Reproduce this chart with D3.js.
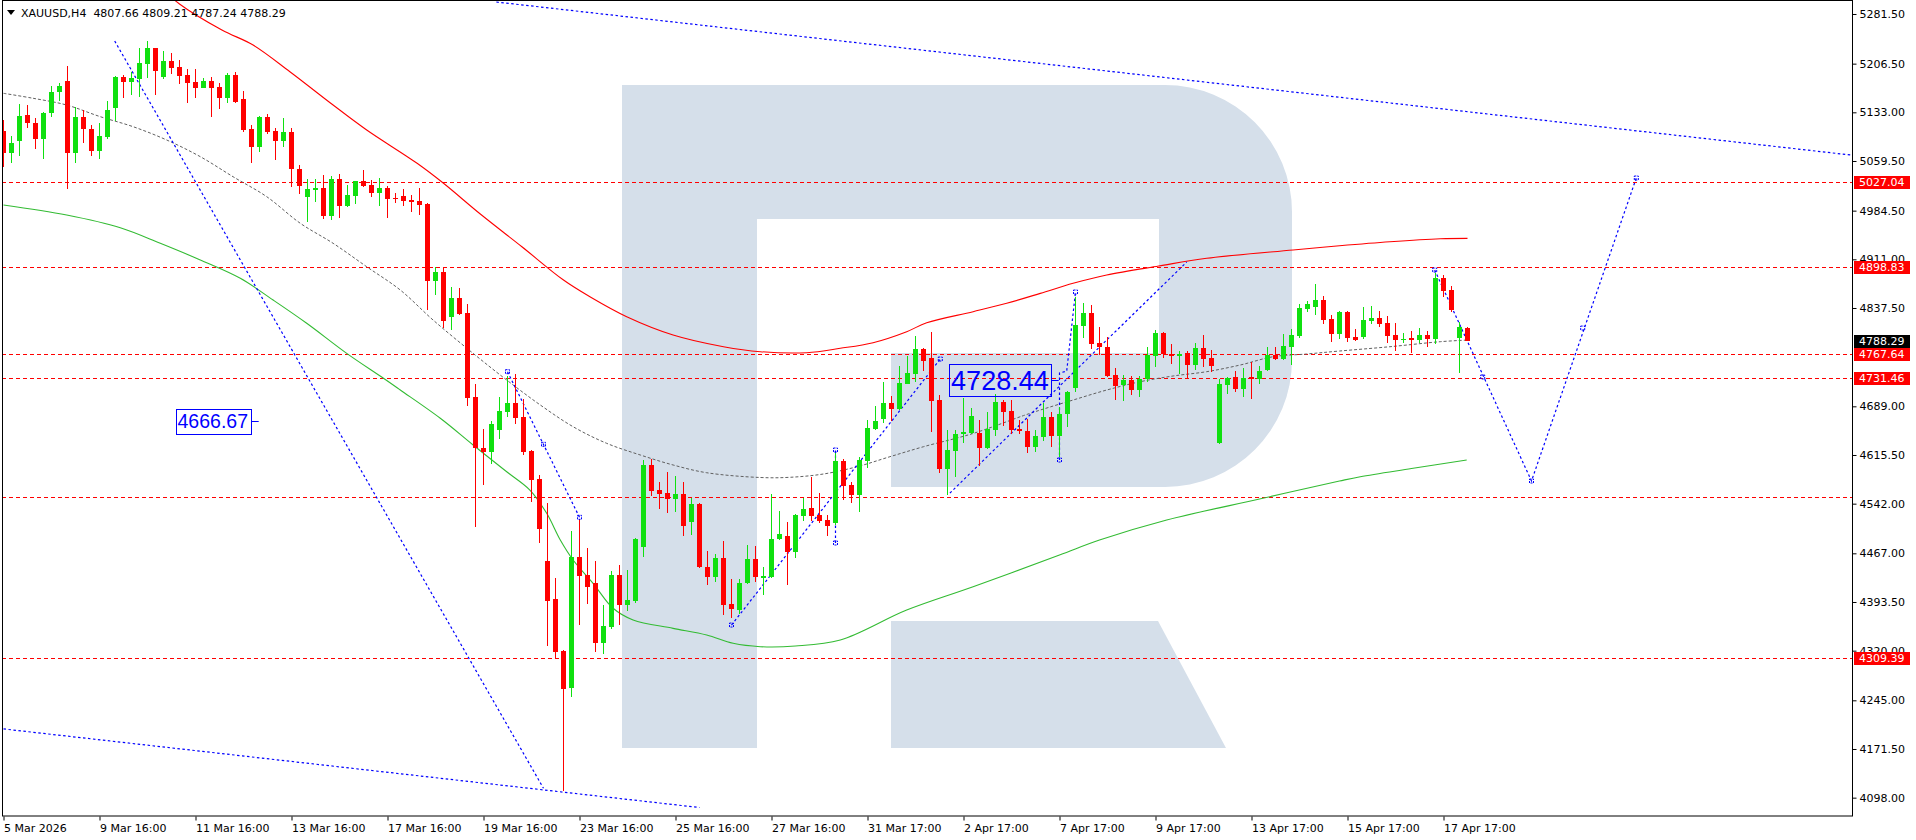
<!DOCTYPE html>
<html><head><meta charset="utf-8">
<script src="https://cdn.jsdelivr.net/npm/d3@7"></script>
<style>
html,body{margin:0;padding:0;background:#fff;overflow:hidden;}
svg{display:block;}
text{font-family:"DejaVu Sans",Tahoma,sans-serif;}
</style></head><body>
<svg id="c" width="1916" height="840"></svg>
<script>
// ---------- DATA ----------
const symbolHeader = "XAUUSD,H4  4807.66 4809.21 4787.24 4788.29";
const openP = [5104.8,5071.1,5090.1,5128.9,5116.4,5092.2,5131.5,5163.2,5180.3,5071.1,5125.5,5107.3,5075.0,5095.2,5140.0,5186.3,5179.2,5183.8,5206.4,5229.7,
5186.8,5210.5,5201.4,5189.3,5178.8,5170.2,5180.3,5171.2,5155.1,5189.3,5153.1,5107.8,5080.1,5125.9,5104.8,5090.1,5103.3,5047.4,5005.5,5016.1,
5018.7,4976.9,5032.3,4992.0,5007.1,5028.8,5023.2,5011.1,5018.7,5004.0,5006.6,5000.6,4999.0,4994.5,4878.7,4892.3,4824.3,4853.0,4830.4,4702.6,
4626.5,4619.5,4653.2,4680.9,4693.5,4673.3,4622.0,4578.8,4455.4,4397.5,4319.9,4263.1,4461.9,4434.7,4421.7,4331.1,4356.2,4434.2,4388.9,4395.4,
4477.0,4599.9,4562.6,4557.6,4549.5,4556.1,4514.7,4541.0,4445.9,4430.8,4459.5,4390.0,4381.4,4422.2,4458.4,4429.3,4431.7,4488.2,4493.1,4469.4,
4523.8,4535.0,4524.9,4517.3,4513.2,4606.4,4570.2,4555.1,4606.4,4654.7,4669.8,4694.0,4684.9,4723.1,4737.8,4775.5,4761.5,4698.5,4594.3,4622.0,
4647.2,4648.2,4649.1,4626.5,4653.7,4695.5,4681.9,4654.7,4651.7,4628.0,4643.1,4673.3,4644.6,4676.9,4716.0,4810.7,4830.4,4784.2,4778.1,4736.3,
4721.2,4728.7,4713.6,4729.8,4765.4,4799.7,4768.0,4765.0,4769.1,4751.4,4777.1,4762.4,4633.1,4721.2,4732.8,4715.1,4732.8,4730.7,4743.8,4766.5,
4760.4,4779.0,4795.2,4836.0,4839.4,4849.5,4820.9,4798.7,4831.4,4793.2,4794.1,4817.8,4822.4,4815.3,4796.7,4789.1,4792.2,4789.1,4796.7,4790.6,
4883.2,4864.6,4792.6,4807.66];
const highP = [5121.4,5097.2,5145.5,5144.0,5123.9,5133.9,5172.7,5177.7,5202.9,5141.5,5136.5,5113.8,5116.4,5150.1,5187.8,5189.3,5194.3,5229.7,5240.7,5230.5,
5225.6,5222.6,5211.5,5197.9,5198.4,5184.4,5186.8,5176.8,5192.8,5193.9,5165.2,5113.8,5127.0,5130.4,5109.3,5124.4,5109.3,5053.4,5032.3,5032.3,
5038.3,5036.8,5039.8,5023.2,5029.5,5045.9,5030.8,5033.8,5021.7,5011.1,5017.2,5008.6,5018.7,4995.5,4899.8,4899.8,4869.6,4868.1,4843.5,4722.7,
4654.7,4666.8,4703.5,4735.2,4737.8,4699.6,4623.5,4585.3,4543.4,4430.2,4321.5,4500.7,4518.4,4474.6,4455.4,4388.9,4440.3,4449.3,4441.8,4490.6,
4607.5,4609.0,4574.7,4590.2,4584.2,4574.2,4550.1,4542.5,4470.9,4466.0,4486.0,4428.2,4428.2,4479.5,4478.0,4446.8,4556.1,4531.3,4514.3,4526.0,
4551.0,4582.7,4557.6,4524.9,4618.5,4609.0,4575.1,4612.9,4668.3,4689.5,4725.7,4704.6,4749.9,4765.0,4795.2,4777.0,4801.2,4706.1,4653.2,4653.2,
4702.0,4686.0,4668.3,4680.9,4707.6,4698.5,4698.5,4668.3,4669.8,4653.2,4693.5,4680.9,4688.4,4712.5,4854.5,4845.5,4842.0,4808.3,4793.2,4747.3,
4736.3,4735.2,4734.8,4779.0,4803.8,4801.2,4783.1,4772.5,4772.5,4784.2,4796.7,4774.0,4730.2,4733.7,4742.3,4747.3,4756.4,4749.9,4778.1,4778.1,
4798.2,4805.3,4843.5,4848.0,4874.2,4855.6,4826.9,4832.9,4832.9,4805.7,4839.4,4840.9,4832.9,4825.8,4815.3,4799.7,4802.7,4807.7,4802.7,4889.9,
4887.3,4871.1,4815.9,4809.21];
const lowP = [5050.9,5056.9,5067.0,5109.7,5077.1,5062.0,5126.4,5150.5,5016.7,5056.9,5087.1,5067.0,5062.0,5092.2,5119.9,5155.1,5159.1,5156.6,5185.3,5159.1,
5183.3,5190.9,5176.2,5147.5,5155.1,5169.5,5126.4,5138.4,5147.5,5147.5,5103.7,5056.0,5073.5,5099.8,5061.4,5081.1,5020.7,5009.6,4967.8,4998.0,
4971.9,4970.4,4973.8,4990.4,4995.0,5020.7,5005.5,4992.0,4973.8,4996.5,4992.0,4982.9,4978.4,4834.4,4857.1,4807.7,4804.2,4826.9,4689.5,4507.2,
4570.2,4601.4,4639.2,4673.3,4662.3,4615.5,4544.9,4482.1,4327.0,4309.3,4108.0,4250.4,4358.7,4390.0,4318.4,4314.9,4352.2,4358.7,4379.9,4391.5,
4461.9,4553.5,4533.5,4527.4,4529.8,4493.1,4494.6,4444.4,4419.1,4423.2,4373.8,4368.8,4375.3,4420.6,4423.7,4404.0,4430.2,4487.0,4419.1,4459.5,
4516.2,4516.2,4512.3,4493.6,4509.7,4547.5,4543.4,4529.8,4595.4,4653.2,4663.3,4666.8,4683.4,4722.0,4725.3,4742.8,4650.7,4587.8,4555.1,4581.8,
4633.1,4647.0,4599.3,4625.0,4644.6,4659.7,4647.2,4646.7,4618.0,4620.4,4637.1,4628.0,4612.0,4658.2,4711.0,4791.7,4775.5,4766.5,4733.3,4698.5,
4697.5,4706.1,4703.5,4726.2,4747.9,4761.5,4752.4,4737.8,4730.2,4743.8,4748.8,4741.3,4631.6,4707.6,4711.1,4703.5,4700.0,4722.7,4742.3,4759.0,
4759.0,4751.4,4791.7,4831.9,4827.0,4813.3,4786.6,4790.6,4786.6,4787.6,4790.6,4813.3,4808.3,4784.2,4772.5,4784.2,4769.1,4784.2,4779.0,4783.1,
4854.5,4831.0,4738.8,4787.24];
const closeP = [5071.1,5086.2,5127.4,5116.4,5092.2,5131.9,5163.7,5172.7,5071.1,5125.5,5107.3,5075.0,5097.2,5136.5,5186.3,5179.2,5184.8,5207.5,5229.7,5195.8,
5210.5,5200.4,5188.3,5177.7,5170.2,5179.8,5170.2,5155.1,5189.3,5149.0,5106.7,5080.1,5125.9,5103.7,5090.1,5103.7,5046.9,5022.2,5017.2,5018.7,
4976.9,5032.3,4992.0,5008.1,5028.8,5021.7,5011.1,5018.7,5002.1,5002.1,4999.5,4998.0,4993.5,4878.7,4892.3,4817.8,4853.0,4828.4,4701.5,4625.6,
4619.5,4662.3,4681.9,4693.5,4671.8,4620.4,4577.7,4503.7,4395.0,4318.4,4262.1,4461.9,4432.7,4415.7,4331.1,4357.2,4434.2,4388.9,4396.5,4488.2,
4599.9,4561.1,4556.1,4549.5,4556.1,4508.7,4541.0,4445.9,4430.8,4459.5,4388.9,4382.4,4422.2,4458.4,4431.2,4432.7,4488.2,4496.2,4469.4,4524.9,
4533.5,4523.8,4516.2,4508.7,4606.4,4569.1,4555.1,4607.9,4655.8,4666.8,4694.0,4684.9,4724.2,4738.8,4775.5,4757.9,4697.5,4594.3,4623.0,4647.2,
4650.2,4674.4,4626.5,4654.7,4695.5,4680.9,4653.7,4652.2,4628.0,4644.2,4673.3,4644.6,4677.4,4711.1,4811.8,4830.4,4783.1,4779.0,4734.8,4719.7,
4728.7,4713.6,4730.2,4766.5,4799.7,4768.0,4765.0,4768.0,4751.4,4777.1,4760.4,4749.9,4722.7,4732.2,4715.1,4732.2,4730.7,4742.3,4766.5,4760.0,
4780.1,4796.7,4837.0,4843.5,4849.5,4819.3,4798.7,4831.4,4792.6,4789.1,4819.3,4822.4,4813.3,4795.6,4789.1,4790.6,4789.1,4796.7,4790.6,4883.2,
4863.6,4834.4,4809.2,4788.29];

const xLabels = ["5 Mar 2026","9 Mar 16:00","11 Mar 16:00","13 Mar 16:00","17 Mar 16:00","19 Mar 16:00","23 Mar 16:00","25 Mar 16:00",
"27 Mar 16:00","31 Mar 17:00","2 Apr 17:00","7 Apr 17:00","9 Apr 17:00","13 Apr 17:00","15 Apr 17:00","17 Apr 17:00"];
const xLabelEvery = 12;
const yTicks = [5281.5,5206.5,5133.0,5059.5,4984.5,4911.0,4837.5,4689.0,4615.5,4542.0,4467.0,4393.5,4320.0,4245.0,4171.5,4098.0];
const levels = [5027.04,4898.83,4767.64,4731.46,4551.6,4309.39];
const levelLabels = [5027.04,4898.83,4767.64,4731.46,4309.39];
const lastPrice = 4788.29;

// moving averages: [bar index, price]
const maRed = [[20,5318],[22,5296.6],[27.3,5257.3],[31.2,5234.6],[35.8,5194.3],[41.2,5144.0],[45.4,5106.3],[51.7,5056.0],[55,5025.8],[59.6,4979.4],
[64.8,4930],[70,4879.7],[73.3,4854.5],[77.9,4824.3],[83.7,4796.7],[90,4779],[94.6,4771.5],[100.4,4770],[104.6,4776.6],[108.7,4785.1],[112.9,4801.7],
[115.4,4815.2],[121.2,4831.9],[125.4,4844.6],[129.6,4859.6],[133.7,4874.8],[137.9,4887.3],[144.4,4900.9],[150.4,4912.5],[161.2,4925.1],[167,4931.5],
[173.3,4937.6],[179.6,4942.1],[183,4942.7]];
const maGreen = [[0,4993.0],[7.9,4977.9],[14.6,4958.7],[19.6,4935.2],[24.6,4910.0],[29.6,4882.3],[33.7,4849.5],[37.9,4814.4],[42.9,4769.0],[47.5,4731.3],
[49.6,4713.6],[54.6,4670.9],[58.7,4630.6],[62.9,4590.2],[65.8,4562.6],[67.9,4527.4],[69.6,4487.1],[71.2,4456.9],[73.7,4421.7],[76.2,4384.0],[78.7,4366.3],
[83.7,4353.7],[87.9,4343.6],[91.2,4331.1],[94.6,4326.0],[99,4327],[104.6,4336.1],[112.9,4381.4],[121.2,4416.6],[132,4464.4],[137,4487],[145.4,4517.3],
[157,4549],[167,4576.2],[169.6,4582.7],[176,4595],[182.9,4607.9]];
const maGray = [[0,5161.7],[3.7,5154.2],[7.9,5144.0],[12.1,5126.4],[16.2,5111.3],[20.4,5091.2],[24.6,5066.0],[28.7,5035.7],[32.9,5005.6],[37.1,4965.4],
[41.2,4935.2],[45.4,4899.8],[49.6,4864.6],[53.7,4819.3],[58.7,4769.0],[62.9,4728.7],[67.1,4691.0],[71.2,4658.2],[75.4,4633.1],[79.6,4615.5],[83.7,4600.4],
[87.9,4588.7],[94.6,4581.5],[98.3,4581.8],[102.5,4586.8],[106.7,4597.8],[110.8,4612.9],[115,4628.0],[121.2,4648],[127.5,4675],[129.6,4683.4],[133.7,4698.5],
[137.9,4713.6],[142.1,4726.2],[146.2,4734.8],[150.4,4741.3],[154.6,4751.4],[158.7,4763.9],[162.9,4768.0],[167,4772.5],[173.3,4779.0],[179.6,4786.6],[183,4789.1]];

// trend / forecast objects: [bar index, price]
const channelTop = [[61.6,5299.6],[231,5068.4]];
const channelBottom = [[0,4201.8],[87,4083.1]];
const diagLine = [[13.9,5240.7],[67.5,4112.1]];
const zigA = [[63,4741.3],[72,4521.4]];
const zigB = [[91,4358.7],[117.1,4760.4]];
const zigC = [[118.3,4558],[147.9,4906.9]];
const zigD = [[132,4607.9],[132,4739.3],[132.9,4742],[134,4861.6]];
const vertB = [[104,4482.6],[104,4623.0]];
const forecast = [[178.9,4894.8],[191,4576.2],[204.1,5033.8]];
const markers = [[63,4741.3],[67.5,4631.6],[72,4521.4],[91,4358.7],[117.1,4760.4],[104,4482.6],[104,4623.0],[132,4607.9],[134,4861.6],
[178.9,4894.8],[184.9,4733.3],[191,4576.2],[197.4,4807.2],[204.1,5033.8]];
// price boxes: value, starting bar, connector end bar, font size
const priceBoxes = [{v:4666.67,bar:21.5,to:31.9,fs:19.5},{v:4728.44,bar:118.2,to:131.9,fs:27}];

// ---------- DRAW ----------
const svg = d3.select("#c");
const P = {l:2, r:1852, t:1, b:816};
const x = d3.scaleLinear().domain([0,231]).range([3.5,1851.5]);
const y = d3.scaleLinear().domain([4070.3,5299.6]).range([816,2]);
const GREEN="#10e010", RED="#ff0000", BLUE="#0000ff";

svg.append("defs").append("clipPath").attr("id","pc").append("rect")
  .attr("x",P.l+0.5).attr("y",P.t).attr("width",P.r-P.l-0.5).attr("height",P.b-P.t);
const g = svg.append("g").attr("clip-path","url(#pc)");

// watermark logo (decorative)
const wm = "M622,85 H1165 A127,127 0 0 1 1292,212 V360 A127,127 0 0 1 1165,487 H891 V353 H1159 V219 H757 V748 H622 Z";
g.append("path").attr("d",wm).attr("fill","#d5dfea");
g.append("path").attr("d","M891,621 H1158 L1226,748 H891 Z").attr("fill","#d5dfea");

// horizontal levels
g.selectAll("line.lvl").data(levels).join("line")
  .attr("x1",P.l).attr("x2",P.r)
  .attr("y1",d=>Math.round(y(d))+0.5).attr("y2",d=>Math.round(y(d))+0.5)
  .attr("stroke",RED).attr("stroke-width",1).attr("stroke-dasharray","4,3");

const lineGen = d3.line().x(d=>x(d[0])).y(d=>y(d[1]));
const curveGen = d3.line().x(d=>x(d[0])).y(d=>y(d[1])).curve(d3.curveCatmullRom.alpha(0.5));

g.append("path").attr("d",curveGen(maRed)).attr("fill","none").attr("stroke",RED).attr("stroke-width",1.1);
g.append("path").attr("d",curveGen(maGreen)).attr("fill","none").attr("stroke","#33bb33").attr("stroke-width",1.1);
g.append("path").attr("d",curveGen(maGray)).attr("fill","none").attr("stroke","#606060").attr("stroke-width",1).attr("stroke-dasharray","3,2");

// blue dotted objects
[channelTop,channelBottom,diagLine,zigA,zigB,zigC,zigD,vertB,forecast].forEach(pts=>{
  g.append("path").attr("d",lineGen(pts)).attr("fill","none").attr("stroke",BLUE)
   .attr("stroke-width",1.2).attr("stroke-dasharray","2.5,2.5");
});

// candles
const bars = d3.range(openP.length).map(i=>({i,o:openP[i],h:highP[i],l:lowP[i],c:closeP[i]}));
g.selectAll("line.wick").data(bars).join("line")
  .attr("x1",d=>x(d.i)).attr("x2",d=>x(d.i))
  .attr("y1",d=>Math.round(y(d.h))).attr("y2",d=>Math.round(y(d.l)))
  .attr("stroke",d=>d.c>=d.o?GREEN:RED).attr("stroke-width",1);
g.selectAll("rect.body").data(bars).join("rect")
  .attr("x",d=>x(d.i)-2.5).attr("width",5)
  .attr("y",d=>Math.round(y(Math.max(d.o,d.c))))
  .attr("height",d=>Math.max(1,Math.round(y(Math.min(d.o,d.c)))-Math.round(y(Math.max(d.o,d.c)))))
  .attr("fill",d=>d.c>=d.o?GREEN:RED);

// markers
g.selectAll("rect.mk").data(markers).join("rect")
  .attr("x",d=>x(d[0])-2).attr("y",d=>y(d[1])-2).attr("width",4).attr("height",4)
  .attr("fill","none").attr("stroke",BLUE).attr("stroke-width",1).attr("stroke-dasharray","2,1");

// price boxes
priceBoxes.forEach(b=>{
  const x0 = x(b.bar), yy = y(b.v);
  const t = g.append("text").attr("x",x0+2).attr("y",yy).attr("dy","0.36em")
    .style("font-family","'Liberation Sans',Arial,sans-serif").style("font-size",b.fs+"px")
    .attr("fill",BLUE).text(d3.format(".2f")(b.v));
  const w = t.node().getComputedTextLength();
  const h = b.fs+5;
  g.insert("rect","text").attr("x",Math.round(x0)+0.5).attr("y",Math.round(yy-h/2)+0.5)
    .attr("width",Math.round(w+4)).attr("height",Math.round(h))
    .attr("fill","none").attr("stroke",BLUE).attr("stroke-width",1);
  g.append("line").attr("x1",Math.round(x0)+0.5+Math.round(w+4)).attr("x2",x(b.to))
    .attr("y1",Math.round(yy)+0.5).attr("y2",Math.round(yy)+0.5).attr("stroke",BLUE);
});

// frame
svg.append("rect").attr("x",2.5).attr("y",0.5).attr("width",P.r-2).attr("height",P.b-0.5)
  .attr("fill","none").attr("stroke","#000").attr("stroke-width",1);

// right axis
const ya = svg.append("g").attr("transform",`translate(${P.r+0.5},0)`)
  .call(d3.axisRight(y).tickValues(yTicks).tickFormat(d3.format(".2f")).tickSize(4).tickPadding(3));
ya.select(".domain").remove();
ya.selectAll("text").style("font-family","'DejaVu Sans',Tahoma,sans-serif").style("font-size","11px").attr("fill","#000");
ya.selectAll("line").attr("stroke","#000");

// bottom axis
const tickBars = xLabels.map((_,i)=>i*xLabelEvery);
const xa = svg.append("g").attr("transform",`translate(0,${P.b+0.5})`)
  .call(d3.axisBottom(x).tickValues(tickBars).tickFormat((d,i)=>xLabels[i]).tickSize(4).tickPadding(4));
xa.select(".domain").remove();
xa.selectAll("text").style("font-family","'DejaVu Sans',Tahoma,sans-serif").style("font-size","11px")
  .attr("text-anchor","start").attr("x",0).attr("fill","#000");
xa.selectAll("line").attr("stroke","#000");

// level labels on axis
const lab = svg.append("g");
const allLabels = levelLabels.map(v=>({v,fill:RED})).concat([{v:lastPrice,fill:"#000"}]);
allLabels.forEach(d=>{
  const yy = Math.round(y(d.v));
  lab.append("rect").attr("x",1854).attr("y",yy-6).attr("width",56).attr("height",13).attr("fill",d.fill);
  lab.append("text").attr("x",1859).attr("y",yy).attr("dy","0.36em")
    .style("font-size","11px").attr("fill","#fff").text(d3.format(".2f")(d.v));
});

// header
svg.append("path").attr("d","M7,10 L15,10 L11,15 Z").attr("fill","#000");
svg.append("text").attr("x",21).attr("y",17).style("font-size","11px").attr("fill","#000")
  .style("white-space","pre").attr("xml:space","preserve").text(symbolHeader);
</script>
</body></html>
